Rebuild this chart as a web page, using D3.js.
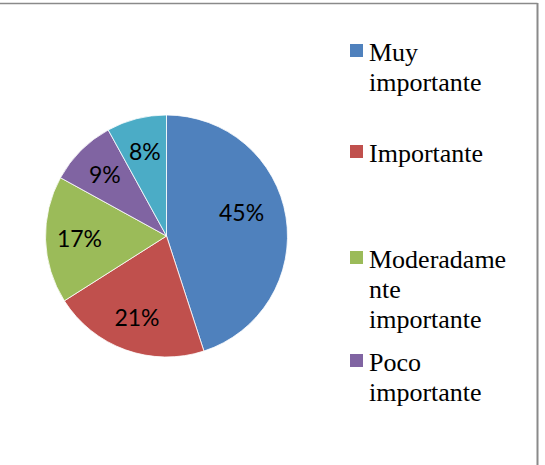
<!DOCTYPE html>
<html>
<head>
<meta charset="utf-8">
<script src="https://cdn.jsdelivr.net/npm/d3@7"></script>
<style>
  html, body { margin: 0; padding: 0; background: #fff; }
  svg { display: block; }
</style>
</head>
<body>
<svg id="chart" width="545" height="465"></svg>
<script>
// ---- data ----
const categories = ["Muy importante", "Importante", "Moderadamente importante", "Poco importante", "Nada importante"];
const values = [45, 21, 17, 9, 8];
const labels = ["45%", "21%", "17%", "9%", "8%"];
// legend text as wrapped in the picture (only the first four entries are visible)
const legendLines = [["Muy", "importante"], ["Importante"], ["Moderadame", "nte", "importante"], ["Poco", "importante"]];
const colors = ["#4F81BD", "#C0504D", "#9BBB59", "#8064A2", "#4BACC6"];

// ---- layout ----
const W = 545, H = 465;
const cx = 166.5, cy = 236, R = 121;
const svg = d3.select("#chart");

// frame (top and right border visible)
svg.append("line").attr("x1", 0).attr("x2", 537.5).attr("y1", 3.5).attr("y2", 3.5)
  .attr("stroke", "#8a8a8a").attr("stroke-width", 1.5);
svg.append("line").attr("x1", 537.5).attr("x2", 537.5).attr("y1", 3).attr("y2", H)
  .attr("stroke", "#8a8a8a").attr("stroke-width", 2);

const pie = d3.pie().sort(null).value(d => d)(values);
const arc = d3.arc().innerRadius(0).outerRadius(R);
const labelArc = d3.arc().innerRadius(R * 0.72).outerRadius(R * 0.72);
const color = d3.scaleOrdinal().domain(categories).range(colors);

const g = svg.append("g").attr("transform", `translate(${cx},${cy})`);
g.selectAll("path").data(pie).join("path")
  .attr("d", arc)
  .attr("fill", (d, i) => color(categories[i]))
  .attr("stroke", "#ffffff").attr("stroke-width", 0.8);

// label nudges (Excel best-fit placement)
const nudge = [[-11, -10], [0, 0], [0, 0], [0, 0], [0, 0]];
g.selectAll("text").data(pie).join("text")
  .attr("x", (d, i) => labelArc.centroid(d)[0] + nudge[i][0])
  .attr("y", (d, i) => labelArc.centroid(d)[1] + nudge[i][1])
  .attr("dy", "0.36em")
  .attr("text-anchor", "middle")
  .attr("font-family", "Lato, 'Open Sans', sans-serif")
  .attr("font-size", 23)
  .attr("fill", "#000")
  .text((d, i) => labels[i]);

// legend
const legendBase = [61, 162, 268, 371];
const lineH = 30;
const lg = svg.append("g");
legendLines.forEach((lines, i) => {
  lg.append("rect")
    .attr("x", 350).attr("y", legendBase[i] - 17)
    .attr("width", 13).attr("height", 13)
    .attr("fill", color(categories[i]));
  const t = lg.append("text")
    .attr("x", 369).attr("y", legendBase[i])
    .attr("font-family", "'Liberation Serif', 'Times New Roman', serif")
    .attr("font-size", 26)
    .attr("fill", "#000");
  lines.forEach((ln, j) => {
    t.append("tspan").attr("x", 369).attr("y", legendBase[i] + j * lineH).text(ln);
  });
});
</script>
</body>
</html>
